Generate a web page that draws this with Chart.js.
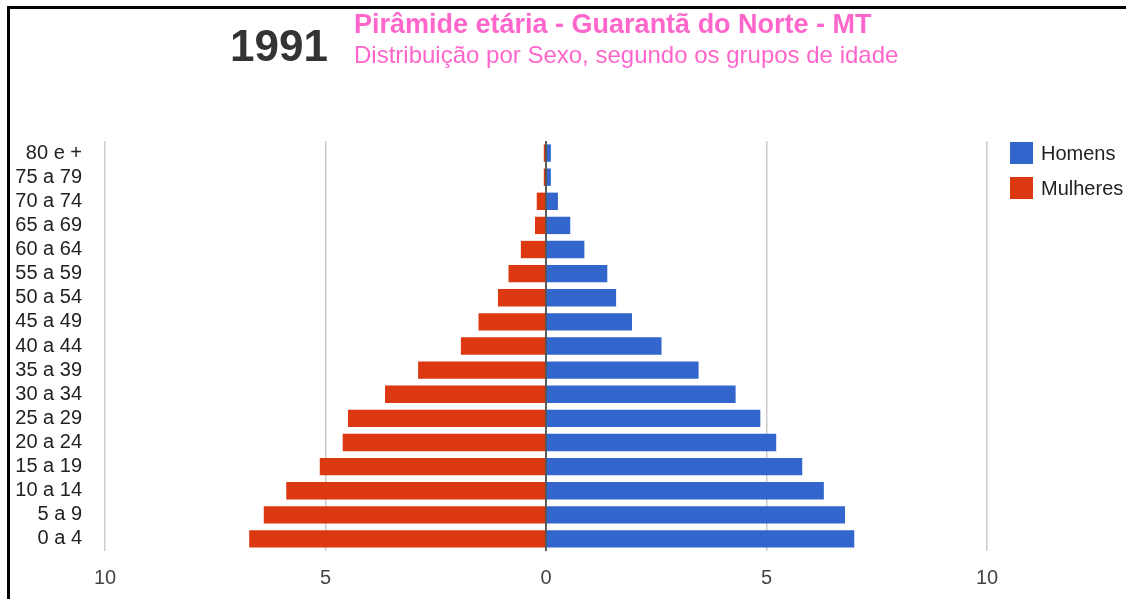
<!DOCTYPE html>
<html>
<head>
<meta charset="utf-8">
<script src="https://cdn.jsdelivr.net/npm/chart.js@4"></script>
<style>
  body { margin: 0; background: #fff; font-family: "Liberation Sans", Arial, sans-serif; }
  #wrap { position: relative; width: 1126px; height: 599px; overflow: hidden; }
  #frameTop { position: absolute; left: 7px; top: 6px; width: 1119px; height: 3px; background: #000; }
  #frameLeft { position: absolute; left: 7px; top: 6px; width: 3px; height: 593px; background: #000; }
  .t { position: absolute; white-space: nowrap; line-height: 1; }
  #year { left: 230px; top: 24px; font-size: 44px; font-weight: bold; color: #333; }
  #title { left: 354px; top: 11px; font-size: 27px; font-weight: bold; color: #ff66cc; }
  #subtitle { left: 354px; top: 43px; font-size: 24px; color: #ff66cc; }
  .leg { position: absolute; left: 1010px; width: 23px; height: 22px; }
  .legtxt { position: absolute; left: 1041px; font-size: 20px; color: #222; line-height: 22px; white-space: nowrap; }
  canvas { position: absolute; left: 0; top: 0; }
</style>
</head>
<body>
<div id="wrap">
  <canvas id="myChart" width="1126" height="599"></canvas>
  <div id="frameTop"></div>
  <div id="frameLeft"></div>
  <div class="t" id="year">1991</div>
  <div class="t" id="title">Pirâmide etária - Guarantã do Norte - MT</div>
  <div class="t" id="subtitle">Distribuição por Sexo, segundo os grupos de idade</div>
  <div id="legend"></div>
</div>
<script>
// age groups, top of the pyramid first
const age_groups = ['80 e +', '75 a 79', '70 a 74', '65 a 69', '60 a 64', '55 a 59', '50 a 54',
  '45 a 49', '40 a 44', '35 a 39', '30 a 34', '25 a 29', '20 a 24', '15 a 19', '10 a 14', '5 a 9', '0 a 4'];

// percent of population
const homens = [0.11, 0.11, 0.27, 0.55, 0.87, 1.39, 1.59, 1.95, 2.62, 3.46, 4.30, 4.86, 5.22, 5.81, 6.30, 6.78, 6.99];
const mulheres = [0.05, 0.05, 0.21, 0.25, 0.57, 0.85, 1.09, 1.53, 1.93, 2.90, 3.65, 4.49, 4.61, 5.13, 5.89, 6.40, 6.73];

const x_ticks = [-10, -5, 0, 5, 10];
const series_names = ['Homens', 'Mulheres'];
const series_colors = ['#3366cc', '#dc3912'];

const ctx = document.getElementById('myChart');

// dark zero line drawn over the bars
const zeroLine = {
  id: 'zeroLine',
  afterDatasetsDraw(chart) {
    const x = chart.scales.x.getPixelForValue(0);
    const c = chart.ctx;
    c.save();
    c.strokeStyle = '#333';
    c.lineWidth = 1.5;
    c.beginPath();
    c.moveTo(x, chart.chartArea.top);
    c.lineTo(x, chart.chartArea.bottom);
    c.stroke();
    c.restore();
  }
};

const chart = new Chart(ctx, {
  type: 'bar',
  data: {
    labels: age_groups,
    datasets: [{
      label: series_names[0],
      data: homens,
      backgroundColor: series_colors[0]
    }, {
      label: series_names[1],
      data: mulheres.map(v => -v),
      backgroundColor: series_colors[1]
    }]
  },
  options: {
    indexAxis: 'y',
    responsive: false,
    animation: false,
    barPercentage: 0.72,
    categoryPercentage: 1,
    layout: { padding: { left: 10, right: 139, top: 141, bottom: 8 } },
    plugins: {
      legend: { display: false },
      tooltip: { enabled: false }
    },
    scales: {
      x: {
        stacked: true,
        min: -10,
        max: 10,
        afterBuildTicks: (axis) => { axis.ticks = x_ticks.map(v => ({ value: v })); },
        afterFit: (axis) => { axis.height = 40; },
        border: { display: false },
        grid: { color: '#cccccc', lineWidth: 1.5, drawTicks: false },
        ticks: {
          padding: 15,
          color: '#444',
          font: { family: 'Liberation Sans', size: 20 },
          callback: (v) => Math.abs(v)
        }
      },
      y: {
        stacked: true,
        afterFit: (axis) => { axis.width = 95; },
        border: { display: false },
        grid: { display: false, drawTicks: false },
        ticks: {
          padding: 23,
          color: '#222',
          autoSkip: false,
          font: { family: 'Liberation Sans', size: 20 }
        }
      }
    }
  },
  plugins: [zeroLine]
});

// legend on the right, built from the dataset list
const legend = document.getElementById('legend');
chart.data.datasets.forEach((ds, i) => {
  const top = 142 + i * 35;
  const box = document.createElement('div');
  box.className = 'leg';
  box.style.top = top + 'px';
  box.style.background = ds.backgroundColor;
  legend.appendChild(box);
  const txt = document.createElement('div');
  txt.className = 'legtxt';
  txt.style.top = top + 'px';
  txt.textContent = ds.label;
  legend.appendChild(txt);
});
</script>
</body>
</html>
